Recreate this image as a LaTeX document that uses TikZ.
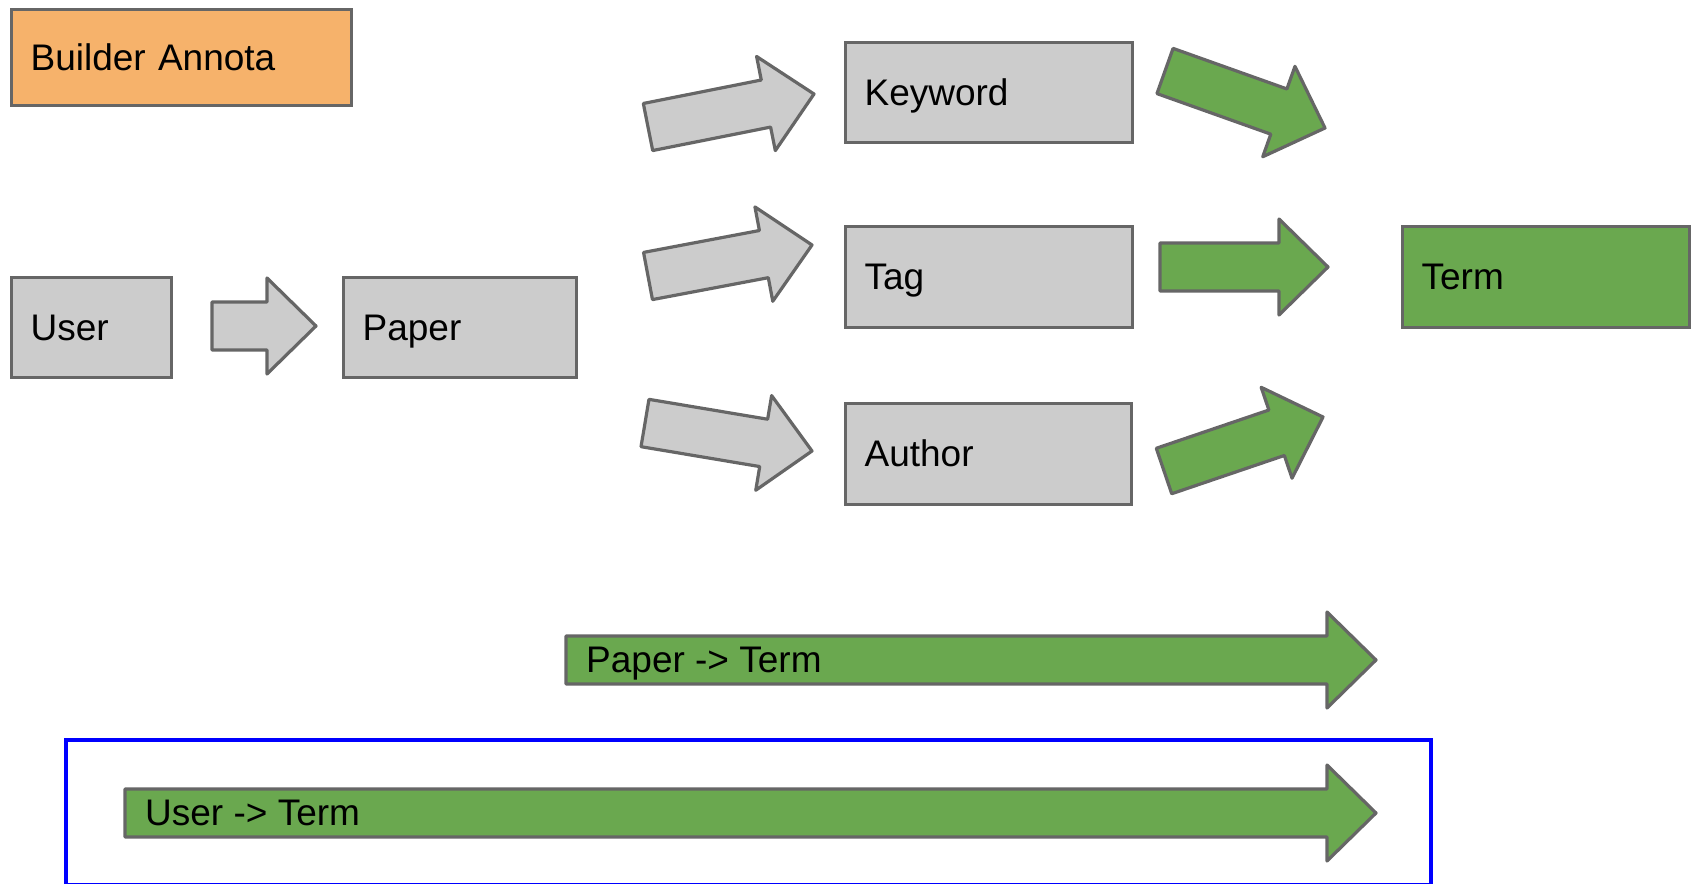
\documentclass[tikz,border=0pt]{standalone}
\usepackage{fontspec}
\setmainfont{Liberation Sans}
\usetikzlibrary{calc}
\definecolor{lineg}{HTML}{666666}
\definecolor{grayf}{HTML}{CCCCCC}
\definecolor{greenf}{HTML}{6AA84F}
\definecolor{orangef}{HTML}{F6B26B}
\definecolor{blueb}{HTML}{0000FF}
\newcommand{\lstrut}{\rule[-0.212em]{0pt}{1.117em}}
\newcommand{\blockarrow}[3]{%
  \coordinate (ba-h) at ($(#3)!49pt!(#2)$);
  \draw[#1] ($(#2)!24pt!90:(#3)$) -- ($(ba-h)!24pt!90:(#3)$) -- ($(ba-h)!48pt!90:(#3)$) -- (#3)
     -- ($(ba-h)!48pt!-90:(#3)$) -- ($(ba-h)!24pt!-90:(#3)$) -- ($(#2)!24pt!-90:(#3)$) -- cycle;}
\tikzset{
  bigfont/.style={font=\fontsize{37}{44}\selectfont},
  box/.style={draw=lineg, line width=3.2pt, inner xsep=19pt, inner ysep=0pt, align=left,
              anchor=north west, bigfont},
  grayarr/.style={draw=lineg, line width=3.2pt, fill=grayf, line join=round},
  greenarr/.style={draw=lineg, line width=3.2pt, fill=greenf, line join=round},
  lbl/.style={bigfont, inner sep=0pt, anchor=west}
}
\begin{document}
\begin{tikzpicture}[x=1pt,y=-1pt]
\useasboundingbox (0,0) rectangle (1691,883);

% boxes
\node[box, fill=orangef, text width=302pt, minimum height=96pt] (builder) at (10,8) {\lstrut Builder Annota};
\node[box, fill=grayf, text width=122pt, minimum height=100pt] (user) at (10,276) {\lstrut User};
\node[box, fill=grayf, text width=195pt, minimum height=100pt] (paper) at (342,276) {\lstrut Paper};
\node[box, fill=grayf, text width=249pt, minimum height=100pt] (keyword) at (844,41) {\lstrut Keyword};
\node[box, fill=grayf, text width=249pt, minimum height=101pt] (tag) at (844,225) {\lstrut Tag};
\node[box, fill=grayf, text width=248pt, minimum height=101pt] (author) at (844,402) {\lstrut Author};
\node[box, fill=greenf, text width=249pt, minimum height=101pt] (term) at (1401,225) {\lstrut Term};

% arrow end points
\coordinate (up-t) at (212,326);  \coordinate (up-h) at (316,326);
\coordinate (pk-t) at (648,127);  \coordinate (pk-h) at (814,94);
\coordinate (pt-t) at (648,276);  \coordinate (pt-h) at (812,245);
\coordinate (pa-t) at (645,423);  \coordinate (pa-h) at (812,451);
\coordinate (kt-t) at (1165,71);  \coordinate (kt-h) at (1325,128);
\coordinate (tt-t) at (1160,267); \coordinate (tt-h) at (1328,267);
\coordinate (at-t) at (1164,471); \coordinate (at-h) at (1323,417);
\coordinate (ptl-t) at (566,660); \coordinate (ptl-h) at (1376,660);
\coordinate (utl-t) at (125,813); \coordinate (utl-h) at (1376,813);

\blockarrow{grayarr}{up-t}{up-h}
\blockarrow{grayarr}{pk-t}{pk-h}
\blockarrow{grayarr}{pt-t}{pt-h}
\blockarrow{grayarr}{pa-t}{pa-h}
\blockarrow{greenarr}{kt-t}{kt-h}
\blockarrow{greenarr}{tt-t}{tt-h}
\blockarrow{greenarr}{at-t}{at-h}
\blockarrow{greenarr}{ptl-t}{ptl-h}
\blockarrow{greenarr}{utl-t}{utl-h}

\node[lbl] (ptlabel) at ($(ptl-t)+(20,0)$) {\lstrut Paper -> Term};
\node[lbl] (utlabel) at ($(utl-t)+(20,0)$) {\lstrut User -> Term};

% blue frame (bottom edge lies at the picture's lower border)
\draw[blueb, line width=4.5pt] (66,885) -- (66,740) -- (1431,740) -- (1431,885) -- cycle;
\end{tikzpicture}
\end{document}
